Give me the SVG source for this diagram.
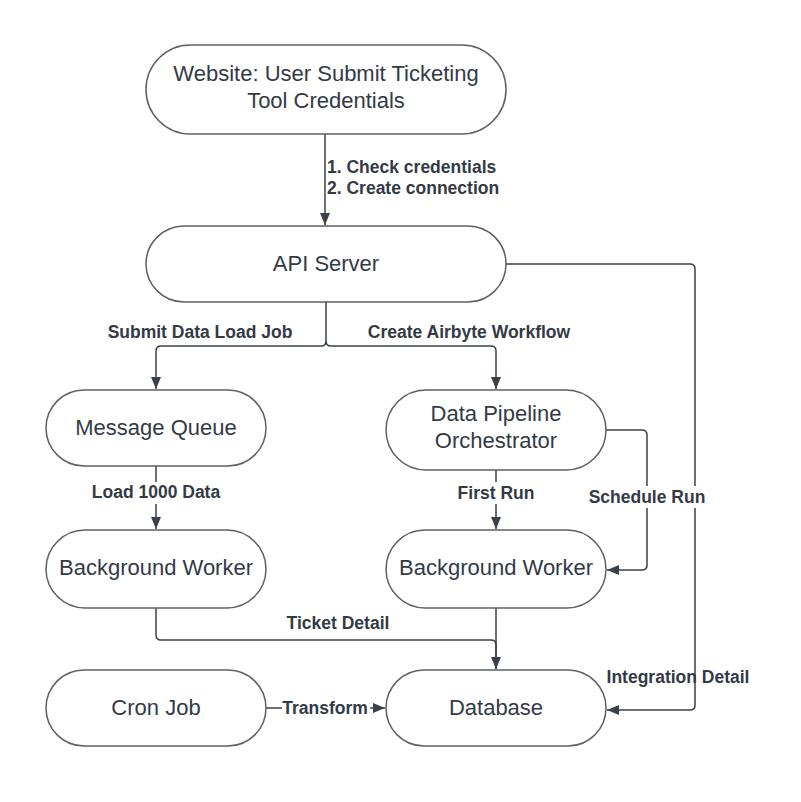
<svg xmlns="http://www.w3.org/2000/svg" width="801" height="802" viewBox="0 0 801 802">
<defs>
<style>
.node rect{fill:#ffffff;stroke:#5e6066;stroke-width:1.5}
.nt{font-family:"Liberation Sans",Arial,sans-serif;font-size:22px;fill:#333a46;text-anchor:middle}
.edge{fill:none;stroke:#3a414a;stroke-width:1.5}
.lbl{font-family:"Liberation Sans",Arial,sans-serif;font-size:17.5px;font-weight:bold;fill:#333a46;text-anchor:middle}
.bg{fill:#ffffff}
</style>
<marker id="arr" viewBox="0 0 12 10" refX="12" refY="5" markerWidth="12" markerHeight="10" markerUnits="userSpaceOnUse" orient="auto">
<path d="M0,0 L12,5 L0,10 Z" fill="#3a414a"/>
</marker>
</defs>
<rect width="801" height="802" fill="#ffffff"/>
<g id="connectors">
<path class="edge" d="M325,134 V225" marker-end="url(#arr)"/>
<path class="edge" d="M326,302 V341 Q326,346 321,346 H161 Q156,346 156,351 V389" marker-end="url(#arr)"/>
<path class="edge" d="M326,341 Q326,346 331,346 H491 Q496,346 496,351 V389" marker-end="url(#arr)"/>
<path class="edge" d="M506,264 H690 Q695,264 695,269 V705 Q695,710 690,710 H607" marker-end="url(#arr)"/>
<path class="edge" d="M606,430 H642 Q647,430 647,435 V565 Q647,570 642,570 H607" marker-end="url(#arr)"/>
<path class="edge" d="M156,466 V529" marker-end="url(#arr)"/>
<path class="edge" d="M496,470 V529" marker-end="url(#arr)"/>
<path class="edge" d="M156,608 V635 Q156,640 161,640 H491 Q496,640 496,645 V669" marker-end="url(#arr)"/>
<path class="edge" d="M496,608 V669"/>
<path class="edge" d="M266,708 H385" marker-end="url(#arr)"/>
<rect class="bg" x="86" y="482" width="140" height="22"/>
<rect class="bg" x="452" y="482" width="88" height="22"/>
<rect class="bg" x="584" y="486" width="126" height="22"/>
<rect class="bg" x="282" y="697" width="88" height="22"/>
<text class="lbl" x="327" y="173" style="text-anchor:start">1.  Check credentials</text>
<text class="lbl" x="327" y="194" style="text-anchor:start">2.  Create connection</text>
<text class="lbl" x="200" y="338">Submit Data Load Job</text>
<text class="lbl" x="469" y="338">Create Airbyte Workflow</text>
<text class="lbl" x="156" y="498">Load 1000 Data</text>
<text class="lbl" x="496" y="499">First Run</text>
<text class="lbl" x="647" y="503">Schedule Run</text>
<text class="lbl" x="338" y="629">Ticket Detail</text>
<text class="lbl" x="678" y="683">Integration Detail</text>
<text class="lbl" x="325" y="714">Transform</text>
</g>
<g id="website" class="node">
<rect x="146" y="45" width="360" height="89" rx="44.5"/>
<text class="nt" x="326" y="81">Website: User Submit Ticketing</text>
<text class="nt" x="326" y="108">Tool Credentials</text>
</g>
<g id="api" class="node">
<rect x="146" y="226" width="360" height="76" rx="38"/>
<text class="nt" x="326" y="271">API Server</text>
</g>
<g id="mq" class="node">
<rect x="46" y="390" width="220" height="76" rx="38"/>
<text class="nt" x="156" y="435">Message Queue</text>
</g>
<g id="dpo" class="node">
<rect x="386" y="390" width="220" height="80" rx="40"/>
<text class="nt" x="496" y="421">Data Pipeline</text>
<text class="nt" x="496" y="448">Orchestrator</text>
</g>
<g id="bw1" class="node">
<rect x="46" y="530" width="220" height="78" rx="39"/>
<text class="nt" x="156" y="575">Background Worker</text>
</g>
<g id="bw2" class="node">
<rect x="386" y="530" width="220" height="78" rx="39"/>
<text class="nt" x="496" y="575">Background Worker</text>
</g>
<g id="cron" class="node">
<rect x="46" y="670" width="220" height="76" rx="38"/>
<text class="nt" x="156" y="715">Cron Job</text>
</g>
<g id="db" class="node">
<rect x="386" y="670" width="220" height="76" rx="38"/>
<text class="nt" x="496" y="715">Database</text>
</g>
</svg>
